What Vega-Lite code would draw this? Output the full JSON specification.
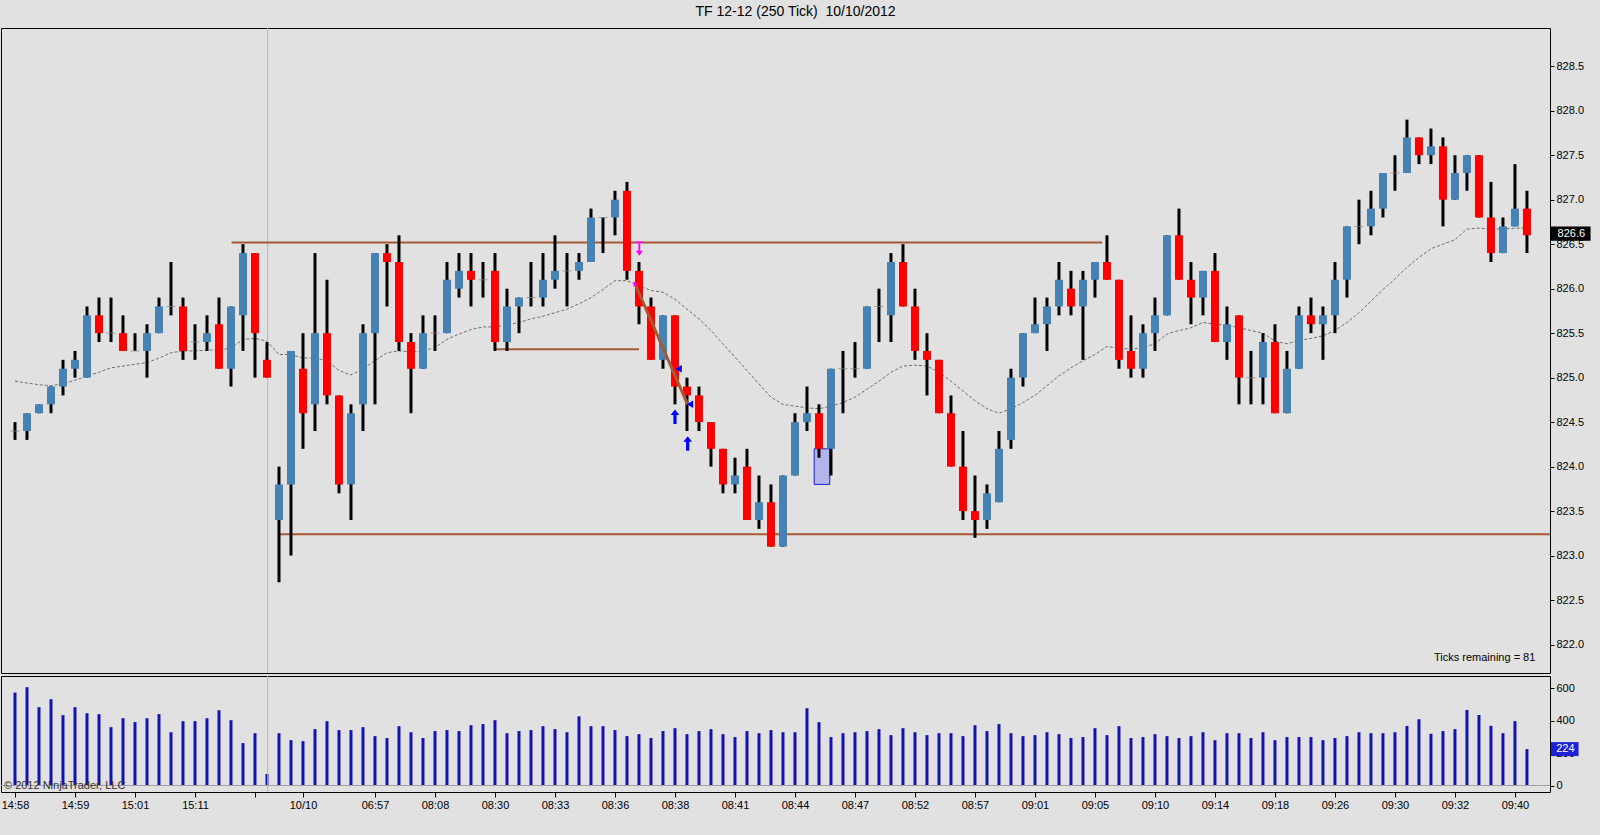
{
  "$schema": "https://vega.github.io/schema/vega-lite/v6.json",
  "background": "#e1e1e1",
  "padding": {"left": 0, "top": 5, "right": 9, "bottom": 26},
  "title": {"text": "TF 12-12 (250 Tick) \u00a010/10/2012", "font": "Liberation Sans", "fontSize": 14, "fontWeight": "normal", "color": "#000000", "anchor": "middle", "frame": "bounds", "offset": 8},
  "config": {
    "view": {"stroke": "#000000", "strokeWidth": 1, "fill": "#e1e1e1"},
    "font": "Liberation Sans",
    "axis": {"labelFont": "Liberation Sans", "labelFontSize": 11, "labelColor": "#000000", "tickColor": "#000000", "tickSize": 4, "labelPadding": 2, "domain": false, "grid": false, "labelOverlap": false, "labelFlush": false}
  },
  "spacing": 1,
  "datasets": {
    "bars": [
      {"i":0,"o":824.4,"h":824.5,"l":824.3,"c":824.4,"v":572,"ma":824.96},
      {"i":1,"o":824.4,"h":824.6,"l":824.3,"c":824.6,"v":605,"ma":824.94},
      {"i":2,"o":824.6,"h":824.7,"l":824.6,"c":824.7,"v":482,"ma":824.92},
      {"i":3,"o":824.7,"h":824.9,"l":824.6,"c":824.9,"v":531,"ma":824.91},
      {"i":4,"o":824.9,"h":825.2,"l":824.8,"c":825.1,"v":433,"ma":824.93},
      {"i":5,"o":825.1,"h":825.3,"l":825.0,"c":825.2,"v":482,"ma":824.97},
      {"i":6,"o":825.0,"h":825.8,"l":825.0,"c":825.7,"v":445,"ma":825.02},
      {"i":7,"o":825.7,"h":825.9,"l":825.4,"c":825.5,"v":439,"ma":825.06},
      {"i":8,"o":825.5,"h":825.9,"l":825.4,"c":825.5,"v":359,"ma":825.11},
      {"i":9,"o":825.5,"h":825.7,"l":825.3,"c":825.3,"v":414,"ma":825.13},
      {"i":10,"o":825.3,"h":825.5,"l":825.3,"c":825.3,"v":390,"ma":825.15},
      {"i":11,"o":825.3,"h":825.6,"l":825.0,"c":825.5,"v":414,"ma":825.17},
      {"i":12,"o":825.5,"h":825.9,"l":825.5,"c":825.8,"v":439,"ma":825.22},
      {"i":13,"o":825.8,"h":826.3,"l":825.7,"c":825.8,"v":328,"ma":825.28},
      {"i":14,"o":825.8,"h":825.9,"l":825.2,"c":825.3,"v":396,"ma":825.30},
      {"i":15,"o":825.4,"h":825.6,"l":825.2,"c":825.4,"v":396,"ma":825.30},
      {"i":16,"o":825.4,"h":825.7,"l":825.3,"c":825.5,"v":414,"ma":825.31},
      {"i":17,"o":825.6,"h":825.9,"l":825.1,"c":825.1,"v":463,"ma":825.31},
      {"i":18,"o":825.1,"h":825.8,"l":824.9,"c":825.8,"v":402,"ma":825.33},
      {"i":19,"o":825.7,"h":826.5,"l":825.3,"c":826.4,"v":261,"ma":825.43},
      {"i":20,"o":826.4,"h":826.4,"l":825.0,"c":825.5,"v":322,"ma":825.44},
      {"i":21,"o":825.2,"h":825.4,"l":825.0,"c":825.0,"v":71,"ma":825.41},
      {"i":22,"o":823.4,"h":824.0,"l":822.7,"c":823.8,"v":322,"ma":825.26},
      {"i":23,"o":823.8,"h":825.3,"l":823.0,"c":825.3,"v":279,"ma":825.26},
      {"i":24,"o":825.1,"h":825.5,"l":824.2,"c":824.6,"v":273,"ma":825.22},
      {"i":25,"o":824.7,"h":826.4,"l":824.4,"c":825.5,"v":347,"ma":825.22},
      {"i":26,"o":825.5,"h":826.1,"l":824.7,"c":824.8,"v":396,"ma":825.19},
      {"i":27,"o":824.8,"h":824.8,"l":823.7,"c":823.8,"v":341,"ma":825.08},
      {"i":28,"o":823.8,"h":824.7,"l":823.4,"c":824.6,"v":341,"ma":825.03},
      {"i":29,"o":824.7,"h":825.6,"l":824.4,"c":825.5,"v":359,"ma":825.10},
      {"i":30,"o":825.5,"h":826.4,"l":824.7,"c":826.4,"v":304,"ma":825.19},
      {"i":31,"o":826.4,"h":826.5,"l":825.8,"c":826.3,"v":292,"ma":825.28},
      {"i":32,"o":826.3,"h":826.6,"l":825.3,"c":825.4,"v":365,"ma":825.30},
      {"i":33,"o":825.4,"h":825.5,"l":824.6,"c":825.1,"v":328,"ma":825.29},
      {"i":34,"o":825.1,"h":825.7,"l":825.1,"c":825.5,"v":292,"ma":825.30},
      {"i":35,"o":825.5,"h":825.7,"l":825.3,"c":825.5,"v":335,"ma":825.34},
      {"i":36,"o":825.5,"h":826.3,"l":825.5,"c":826.1,"v":341,"ma":825.43},
      {"i":37,"o":826.0,"h":826.4,"l":825.9,"c":826.2,"v":335,"ma":825.49},
      {"i":38,"o":826.2,"h":826.4,"l":825.8,"c":826.1,"v":371,"ma":825.54},
      {"i":39,"o":826.1,"h":826.3,"l":825.9,"c":826.1,"v":378,"ma":825.57},
      {"i":40,"o":826.2,"h":826.4,"l":825.3,"c":825.4,"v":402,"ma":825.57},
      {"i":41,"o":825.4,"h":826.0,"l":825.3,"c":825.8,"v":322,"ma":825.59},
      {"i":42,"o":825.8,"h":825.9,"l":825.5,"c":825.9,"v":335,"ma":825.62},
      {"i":43,"o":825.9,"h":826.3,"l":825.8,"c":825.9,"v":341,"ma":825.66},
      {"i":44,"o":825.9,"h":826.4,"l":825.8,"c":826.1,"v":365,"ma":825.69},
      {"i":45,"o":826.1,"h":826.6,"l":826.0,"c":826.2,"v":347,"ma":825.73},
      {"i":46,"o":826.2,"h":826.4,"l":825.8,"c":826.2,"v":328,"ma":825.77},
      {"i":47,"o":826.2,"h":826.4,"l":826.1,"c":826.3,"v":426,"ma":825.83},
      {"i":48,"o":826.3,"h":826.9,"l":826.3,"c":826.8,"v":365,"ma":825.90},
      {"i":49,"o":826.8,"h":826.8,"l":826.4,"c":826.8,"v":365,"ma":825.99},
      {"i":50,"o":826.8,"h":827.1,"l":826.6,"c":827.0,"v":341,"ma":826.09},
      {"i":51,"o":827.1,"h":827.2,"l":826.1,"c":826.2,"v":304,"ma":826.09},
      {"i":52,"o":826.2,"h":826.3,"l":825.6,"c":825.8,"v":316,"ma":826.03},
      {"i":53,"o":825.8,"h":825.9,"l":825.2,"c":825.2,"v":292,"ma":825.98},
      {"i":54,"o":825.2,"h":825.7,"l":825.1,"c":825.7,"v":335,"ma":825.96},
      {"i":55,"o":825.7,"h":825.7,"l":824.7,"c":824.9,"v":353,"ma":825.88},
      {"i":56,"o":824.9,"h":825.0,"l":824.4,"c":824.8,"v":316,"ma":825.77},
      {"i":57,"o":824.8,"h":824.9,"l":824.4,"c":824.5,"v":335,"ma":825.66},
      {"i":58,"o":824.5,"h":824.5,"l":824.0,"c":824.2,"v":347,"ma":825.53},
      {"i":59,"o":824.2,"h":824.2,"l":823.7,"c":823.8,"v":316,"ma":825.38},
      {"i":60,"o":823.8,"h":824.1,"l":823.7,"c":823.9,"v":298,"ma":825.23},
      {"i":61,"o":824.0,"h":824.2,"l":823.4,"c":823.4,"v":335,"ma":825.08},
      {"i":62,"o":823.4,"h":823.9,"l":823.3,"c":823.6,"v":322,"ma":824.93},
      {"i":63,"o":823.6,"h":823.8,"l":823.1,"c":823.1,"v":341,"ma":824.78},
      {"i":64,"o":823.1,"h":823.9,"l":823.1,"c":823.9,"v":328,"ma":824.70},
      {"i":65,"o":823.9,"h":824.6,"l":823.9,"c":824.5,"v":328,"ma":824.68},
      {"i":66,"o":824.5,"h":824.9,"l":824.4,"c":824.6,"v":476,"ma":824.66},
      {"i":67,"o":824.6,"h":824.7,"l":824.1,"c":824.2,"v":390,"ma":824.65},
      {"i":68,"o":824.2,"h":825.1,"l":823.9,"c":825.1,"v":298,"ma":824.68},
      {"i":69,"o":825.1,"h":825.3,"l":824.6,"c":825.1,"v":322,"ma":824.72},
      {"i":70,"o":825.1,"h":825.4,"l":825.0,"c":825.1,"v":328,"ma":824.78},
      {"i":71,"o":825.1,"h":825.8,"l":825.1,"c":825.8,"v":335,"ma":824.87},
      {"i":72,"o":825.8,"h":826.0,"l":825.4,"c":825.8,"v":347,"ma":824.96},
      {"i":73,"o":825.7,"h":826.4,"l":825.4,"c":826.3,"v":310,"ma":825.06},
      {"i":74,"o":826.3,"h":826.5,"l":825.8,"c":825.8,"v":353,"ma":825.13},
      {"i":75,"o":825.8,"h":826.0,"l":825.2,"c":825.3,"v":328,"ma":825.14},
      {"i":76,"o":825.3,"h":825.5,"l":824.8,"c":825.2,"v":310,"ma":825.13},
      {"i":77,"o":825.2,"h":825.2,"l":824.6,"c":824.6,"v":322,"ma":825.06},
      {"i":78,"o":824.6,"h":824.8,"l":824.0,"c":824.0,"v":322,"ma":824.96},
      {"i":79,"o":824.0,"h":824.4,"l":823.4,"c":823.5,"v":304,"ma":824.85},
      {"i":80,"o":823.5,"h":823.9,"l":823.2,"c":823.4,"v":371,"ma":824.74},
      {"i":81,"o":823.4,"h":823.8,"l":823.3,"c":823.7,"v":335,"ma":824.65},
      {"i":82,"o":823.6,"h":824.4,"l":823.6,"c":824.2,"v":378,"ma":824.60},
      {"i":83,"o":824.3,"h":825.1,"l":824.2,"c":825.0,"v":322,"ma":824.65},
      {"i":84,"o":825.0,"h":825.5,"l":824.9,"c":825.5,"v":304,"ma":824.72},
      {"i":85,"o":825.5,"h":825.9,"l":825.5,"c":825.6,"v":310,"ma":824.80},
      {"i":86,"o":825.6,"h":825.9,"l":825.3,"c":825.8,"v":328,"ma":824.91},
      {"i":87,"o":825.8,"h":826.3,"l":825.7,"c":826.1,"v":316,"ma":825.02},
      {"i":88,"o":826.0,"h":826.2,"l":825.7,"c":825.8,"v":292,"ma":825.11},
      {"i":89,"o":825.8,"h":826.2,"l":825.2,"c":826.1,"v":298,"ma":825.19},
      {"i":90,"o":826.1,"h":826.3,"l":825.9,"c":826.3,"v":353,"ma":825.26},
      {"i":91,"o":826.3,"h":826.6,"l":826.1,"c":826.1,"v":310,"ma":825.35},
      {"i":92,"o":826.1,"h":826.1,"l":825.1,"c":825.2,"v":365,"ma":825.33},
      {"i":93,"o":825.3,"h":825.7,"l":825.0,"c":825.1,"v":292,"ma":825.32},
      {"i":94,"o":825.1,"h":825.6,"l":825.0,"c":825.5,"v":298,"ma":825.34},
      {"i":95,"o":825.5,"h":825.9,"l":825.3,"c":825.7,"v":316,"ma":825.38},
      {"i":96,"o":825.7,"h":826.6,"l":825.7,"c":826.6,"v":304,"ma":825.49},
      {"i":97,"o":826.6,"h":826.9,"l":826.1,"c":826.1,"v":292,"ma":825.53},
      {"i":98,"o":826.1,"h":826.3,"l":825.6,"c":825.9,"v":304,"ma":825.56},
      {"i":99,"o":825.9,"h":826.2,"l":825.7,"c":826.2,"v":328,"ma":825.62},
      {"i":100,"o":826.2,"h":826.4,"l":825.4,"c":825.4,"v":279,"ma":825.60},
      {"i":101,"o":825.4,"h":825.8,"l":825.2,"c":825.6,"v":322,"ma":825.59},
      {"i":102,"o":825.7,"h":825.7,"l":824.7,"c":825.0,"v":322,"ma":825.56},
      {"i":103,"o":825.0,"h":825.3,"l":824.7,"c":825.0,"v":292,"ma":825.53},
      {"i":104,"o":825.0,"h":825.5,"l":824.7,"c":825.4,"v":328,"ma":825.50},
      {"i":105,"o":825.4,"h":825.6,"l":824.6,"c":824.6,"v":279,"ma":825.41},
      {"i":106,"o":824.6,"h":825.3,"l":824.6,"c":825.1,"v":298,"ma":825.38},
      {"i":107,"o":825.1,"h":825.8,"l":825.1,"c":825.7,"v":298,"ma":825.42},
      {"i":108,"o":825.7,"h":825.9,"l":825.5,"c":825.6,"v":298,"ma":825.44},
      {"i":109,"o":825.6,"h":825.8,"l":825.2,"c":825.7,"v":279,"ma":825.47},
      {"i":110,"o":825.7,"h":826.3,"l":825.5,"c":826.1,"v":292,"ma":825.53},
      {"i":111,"o":826.1,"h":826.7,"l":825.9,"c":826.7,"v":304,"ma":825.62},
      {"i":112,"o":826.7,"h":827.0,"l":826.5,"c":826.7,"v":328,"ma":825.73},
      {"i":113,"o":826.7,"h":827.1,"l":826.6,"c":826.9,"v":322,"ma":825.86},
      {"i":114,"o":826.9,"h":827.3,"l":826.8,"c":827.3,"v":322,"ma":825.99},
      {"i":115,"o":827.3,"h":827.5,"l":827.1,"c":827.3,"v":328,"ma":826.11},
      {"i":116,"o":827.3,"h":827.9,"l":827.3,"c":827.7,"v":367,"ma":826.24},
      {"i":117,"o":827.7,"h":827.7,"l":827.4,"c":827.5,"v":408,"ma":826.35},
      {"i":118,"o":827.5,"h":827.8,"l":827.4,"c":827.6,"v":318,"ma":826.45},
      {"i":119,"o":827.6,"h":827.7,"l":826.7,"c":827.0,"v":335,"ma":826.50},
      {"i":120,"o":827.0,"h":827.5,"l":827.0,"c":827.3,"v":347,"ma":826.55},
      {"i":121,"o":827.3,"h":827.5,"l":827.1,"c":827.5,"v":465,"ma":826.67},
      {"i":122,"o":827.5,"h":827.5,"l":826.8,"c":826.8,"v":434,"ma":826.68},
      {"i":123,"o":826.8,"h":827.2,"l":826.3,"c":826.4,"v":367,"ma":826.67},
      {"i":124,"o":826.4,"h":826.8,"l":826.4,"c":826.7,"v":322,"ma":826.67},
      {"i":125,"o":826.7,"h":827.4,"l":826.7,"c":826.9,"v":396,"ma":826.68},
      {"i":126,"o":826.9,"h":827.1,"l":826.4,"c":826.6,"v":224,"ma":826.68}
    ],
    "levels": [
      {"x": 18.05, "x2": 90.6, "y": 826.52, "y2": 826.52},
      {"x": 21.96, "x2": 127.92, "y": 823.24, "y2": 823.24},
      {"x": 40.1, "x2": 52.0, "y": 825.32, "y2": 825.32}
    ],
    "trend": [{"x": 51.75, "x2": 56.05, "y": 826.03, "y2": 824.70}],
    "box": [{"x": 66.6, "x2": 67.9, "y": 823.8, "y2": 824.2}],
    "signals": [
      {"x": 52.03, "y": 826.45, "kind": "down"},
      {"x": 51.75, "y": 826.05, "kind": "dot"},
      {"x": 55.3, "y": 825.10, "kind": "tri"},
      {"x": 56.25, "y": 824.70, "kind": "tri"},
      {"x": 55.0, "y": 824.56, "kind": "up"},
      {"x": 56.06, "y": 824.26, "kind": "up"}
    ],
    "pricetag": [{"x": 128.0, "x2": 131.3, "y": 826.54, "y2": 826.70, "xt": 129.7, "yt": 826.62, "label": "826.6"}],
    "voltag": [{"x": 128.0, "x2": 130.3, "y": 181, "y2": 267, "xt": 129.2, "yt": 224, "label": "224"}]
  },
  "vconcat": [
    {
      "width": 1549,
      "height": 645,
      "layer": [
        {
          "data": {"name": "bars"},
          "mark": {"type": "line", "color": "#6e6e6e", "strokeWidth": 1, "strokeDash": [3, 2]},
          "encoding": {
            "x": {"field": "i", "type": "quantitative", "scale": {"domain": [-1.167, 127.92], "nice": false, "zero": false}, "axis": null},
            "y": {"field": "ma", "type": "quantitative", "title": null, "scale": {"domain": [821.68, 828.93], "nice": false, "zero": false},
                  "axis": {"orient": "right", "title": null, "labelOverlap": false, "labelBound": false, "values": [822, 822.5, 823, 823.5, 824, 824.5, 825, 825.5, 826, 826.5, 827, 827.5, 828, 828.5], "format": ".1f"}}
          }
        },
        {
          "data": {"values": [{"x": 21.06}]},
          "mark": {"type": "rule", "color": "#b4b4b4", "strokeWidth": 1},
          "encoding": {
            "x": {"field": "x", "type": "quantitative", "scale": {"domain": [-1.167, 127.92], "nice": false, "zero": false}, "axis": null}
          }
        },
        {
          "data": {"name": "levels"},
          "mark": {"type": "rule", "color": "#a65a34", "strokeWidth": 2},
          "encoding": {
            "x": {"field": "x", "type": "quantitative", "scale": {"domain": [-1.167, 127.92], "nice": false, "zero": false}, "axis": null},
            "x2": {"field": "x2"},
            "y": {"field": "y", "type": "quantitative", "title": null, "scale": {"domain": [821.68, 828.93], "nice": false, "zero": false}},
            "y2": {"field": "y2"}
          }
        },
        {
          "data": {"name": "box"},
          "mark": {"type": "rect", "fill": "#b4b4ec", "stroke": "#1c1cd0", "strokeWidth": 1},
          "encoding": {
            "x": {"field": "x", "type": "quantitative", "scale": {"domain": [-1.167, 127.92], "nice": false, "zero": false}, "axis": null},
            "x2": {"field": "x2"},
            "y": {"field": "y", "type": "quantitative", "title": null, "scale": {"domain": [821.68, 828.93], "nice": false, "zero": false}},
            "y2": {"field": "y2"}
          }
        },
        {
          "data": {"name": "bars"},
          "mark": {"type": "rule", "color": "#000000", "strokeWidth": 3},
          "encoding": {
            "x": {"field": "i", "type": "quantitative", "scale": {"domain": [-1.167, 127.92], "nice": false, "zero": false}, "axis": null},
            "y": {"field": "l", "type": "quantitative", "title": null, "scale": {"domain": [821.68, 828.93], "nice": false, "zero": false}},
            "y2": {"field": "h"}
          }
        },
        {
          "data": {"name": "bars"},
          "transform": [{"filter": "datum.o != datum.c"}],
          "mark": {"type": "rule", "strokeWidth": 8},
          "encoding": {
            "x": {"field": "i", "type": "quantitative", "scale": {"domain": [-1.167, 127.92], "nice": false, "zero": false}, "axis": null},
            "y": {"field": "o", "type": "quantitative", "title": null, "scale": {"domain": [821.68, 828.93], "nice": false, "zero": false}},
            "y2": {"field": "c"},
            "color": {"condition": {"test": "datum.c > datum.o", "value": "#4682b4"}, "value": "#ff0000"}
          }
        },
        {
          "data": {"name": "bars"},
          "transform": [{"filter": "datum.o == datum.c"}],
          "mark": {"type": "tick", "orient": "horizontal", "size": 9, "thickness": 1, "color": "#808080"},
          "encoding": {
            "x": {"field": "i", "type": "quantitative", "scale": {"domain": [-1.167, 127.92], "nice": false, "zero": false}, "axis": null},
            "y": {"field": "o", "type": "quantitative", "title": null, "scale": {"domain": [821.68, 828.93], "nice": false, "zero": false}}
          }
        },
        {
          "data": {"name": "trend"},
          "mark": {"type": "rule", "color": "#a65a34", "strokeWidth": 3},
          "encoding": {
            "x": {"field": "x", "type": "quantitative", "scale": {"domain": [-1.167, 127.92], "nice": false, "zero": false}, "axis": null},
            "x2": {"field": "x2"},
            "y": {"field": "y", "type": "quantitative", "title": null, "scale": {"domain": [821.68, 828.93], "nice": false, "zero": false}},
            "y2": {"field": "y2"}
          }
        },
        {
          "data": {"name": "signals"},
          "transform": [{"filter": "datum.kind == 'down'"}],
          "mark": {"type": "point", "shape": "M-0.55,-1H0.55V-0.8H0.13V0.3H0.5L0,1L-0.5,0.3H-0.13V-0.8H-0.55Z", "size": 200, "filled": true, "color": "#ff00ff", "opacity": 1},
          "encoding": {
            "x": {"field": "x", "type": "quantitative", "scale": {"domain": [-1.167, 127.92], "nice": false, "zero": false}, "axis": null},
            "y": {"field": "y", "type": "quantitative", "title": null, "scale": {"domain": [821.68, 828.93], "nice": false, "zero": false}}
          }
        },
        {
          "data": {"name": "signals"},
          "transform": [{"filter": "datum.kind == 'dot'"}],
          "mark": {"type": "point", "shape": "triangle-right", "size": 30, "filled": true, "color": "#ff00ff", "opacity": 1},
          "encoding": {
            "x": {"field": "x", "type": "quantitative", "scale": {"domain": [-1.167, 127.92], "nice": false, "zero": false}, "axis": null},
            "y": {"field": "y", "type": "quantitative", "title": null, "scale": {"domain": [821.68, 828.93], "nice": false, "zero": false}}
          }
        },
        {
          "data": {"name": "signals"},
          "transform": [{"filter": "datum.kind == 'tri'"}],
          "mark": {"type": "point", "shape": "triangle-left", "size": 55, "filled": true, "color": "#0000ee", "opacity": 1},
          "encoding": {
            "x": {"field": "x", "type": "quantitative", "scale": {"domain": [-1.167, 127.92], "nice": false, "zero": false}, "axis": null},
            "y": {"field": "y", "type": "quantitative", "title": null, "scale": {"domain": [821.68, 828.93], "nice": false, "zero": false}}
          }
        },
        {
          "data": {"name": "signals"},
          "transform": [{"filter": "datum.kind == 'up'"}],
          "mark": {"type": "point", "shape": "M0,-1L0.6,-0.25H0.22V1H-0.22V-0.25H-0.6Z", "size": 210, "filled": true, "color": "#0000ff", "opacity": 1},
          "encoding": {
            "x": {"field": "x", "type": "quantitative", "scale": {"domain": [-1.167, 127.92], "nice": false, "zero": false}, "axis": null},
            "y": {"field": "y", "type": "quantitative", "title": null, "scale": {"domain": [821.68, 828.93], "nice": false, "zero": false}}
          }
        },
        {
          "data": {"values": [{"x": 126.7, "y": 821.85, "label": "Ticks remaining = 81"}]},
          "mark": {"type": "text", "align": "right", "baseline": "middle", "fontSize": 11, "color": "#000000"},
          "encoding": {
            "x": {"field": "x", "type": "quantitative", "scale": {"domain": [-1.167, 127.92], "nice": false, "zero": false}, "axis": null},
            "y": {"field": "y", "type": "quantitative", "title": null, "scale": {"domain": [821.68, 828.93], "nice": false, "zero": false}},
            "text": {"field": "label"}
          }
        },
        {
          "data": {"name": "pricetag"},
          "mark": {"type": "rect", "fill": "#000000", "clip": false},
          "encoding": {
            "x": {"field": "x", "type": "quantitative", "scale": {"domain": [-1.167, 127.92], "nice": false, "zero": false}, "axis": null},
            "x2": {"field": "x2"},
            "y": {"field": "y", "type": "quantitative", "title": null, "scale": {"domain": [821.68, 828.93], "nice": false, "zero": false}},
            "y2": {"field": "y2"}
          }
        },
        {
          "data": {"name": "pricetag"},
          "mark": {"type": "text", "align": "center", "baseline": "middle", "fontSize": 11, "color": "#ffffff"},
          "encoding": {
            "x": {"field": "xt", "type": "quantitative", "scale": {"domain": [-1.167, 127.92], "nice": false, "zero": false}, "axis": null},
            "y": {"field": "yt", "type": "quantitative", "title": null, "scale": {"domain": [821.68, 828.93], "nice": false, "zero": false}},
            "text": {"field": "label"}
          }
        }
      ]
    },
    {
      "width": 1549,
      "height": 116,
      "layer": [
        {
          "data": {"name": "bars"},
          "mark": {"type": "rule", "color": "#1212b4", "strokeWidth": 3},
          "encoding": {
            "x": {"field": "i", "type": "quantitative", "title": null, "scale": {"domain": [-1.167, 127.92], "nice": false, "zero": false},
                  "axis": {"orient": "bottom", "title": null, "tickSize": 5, "labelOverlap": false,
                           "values": [0, 5, 10, 15, 20, 24, 30, 35, 40, 45, 50, 55, 60, 65, 70, 75, 80, 85, 90, 95, 100, 105, 110, 115, 120, 125],
                           "labelExpr": "['14:58','14:59','15:01','15:11','','10/10','06:57','08:08','08:30','08:33','08:36','08:38','08:41','08:44','08:47','08:52','08:57','09:01','09:05','09:10','09:14','09:18','09:26','09:30','09:32','09:40'][indexof([0,5,10,15,20,24,30,35,40,45,50,55,60,65,70,75,80,85,90,95,100,105,110,115,120,125], datum.value)]"}},
            "y": {"field": "v", "type": "quantitative", "title": null, "scale": {"domain": [-40, 674], "nice": false, "zero": false},
                  "axis": {"orient": "right", "title": null, "labelOverlap": false, "labelBound": false, "values": [0, 200, 400, 600]}},
            "y2": {"datum": 0}
          }
        },
        {
          "data": {"values": [{"x": 21.06}]},
          "mark": {"type": "rule", "color": "#b4b4b4", "strokeWidth": 1},
          "encoding": {
            "x": {"field": "x", "type": "quantitative", "title": null, "scale": {"domain": [-1.167, 127.92], "nice": false, "zero": false}}
          }
        },
        {
          "data": {"values": [{"y": 0}]},
          "mark": {"type": "rule", "color": "#a0a0a0", "strokeWidth": 1},
          "encoding": {
            "y": {"field": "y", "type": "quantitative", "title": null, "scale": {"domain": [-40, 674], "nice": false, "zero": false},
                  "axis": {"orient": "right", "title": null, "labelOverlap": false, "labelBound": false, "values": [0, 200, 400, 600]}}
          }
        },
        {
          "data": {"values": [{"x": -0.92, "y": 0, "label": "© 2012 NinjaTrader, LLC"}]},
          "mark": {"type": "text", "align": "left", "baseline": "middle", "fontSize": 11, "color": "#333333"},
          "encoding": {
            "x": {"field": "x", "type": "quantitative", "title": null, "scale": {"domain": [-1.167, 127.92], "nice": false, "zero": false}},
            "y": {"field": "y", "type": "quantitative", "title": null, "scale": {"domain": [-40, 674], "nice": false, "zero": false},
                  "axis": {"orient": "right", "title": null, "labelOverlap": false, "labelBound": false, "values": [0, 200, 400, 600]}},
            "text": {"field": "label"}
          }
        },
        {
          "data": {"name": "voltag"},
          "mark": {"type": "rect", "fill": "#1f1fd6", "clip": false},
          "encoding": {
            "x": {"field": "x", "type": "quantitative", "title": null, "scale": {"domain": [-1.167, 127.92], "nice": false, "zero": false}},
            "x2": {"field": "x2"},
            "y": {"field": "y", "type": "quantitative", "title": null, "scale": {"domain": [-40, 674], "nice": false, "zero": false},
                  "axis": {"orient": "right", "title": null, "labelOverlap": false, "labelBound": false, "values": [0, 200, 400, 600]}},
            "y2": {"field": "y2"}
          }
        },
        {
          "data": {"name": "voltag"},
          "mark": {"type": "text", "align": "center", "baseline": "middle", "fontSize": 11, "color": "#ffffff"},
          "encoding": {
            "x": {"field": "xt", "type": "quantitative", "title": null, "scale": {"domain": [-1.167, 127.92], "nice": false, "zero": false}},
            "y": {"field": "yt", "type": "quantitative", "title": null, "scale": {"domain": [-40, 674], "nice": false, "zero": false},
                  "axis": {"orient": "right", "title": null, "labelOverlap": false, "labelBound": false, "values": [0, 200, 400, 600]}},
            "text": {"field": "label"}
          }
        }
      ]
    }
  ]
}
